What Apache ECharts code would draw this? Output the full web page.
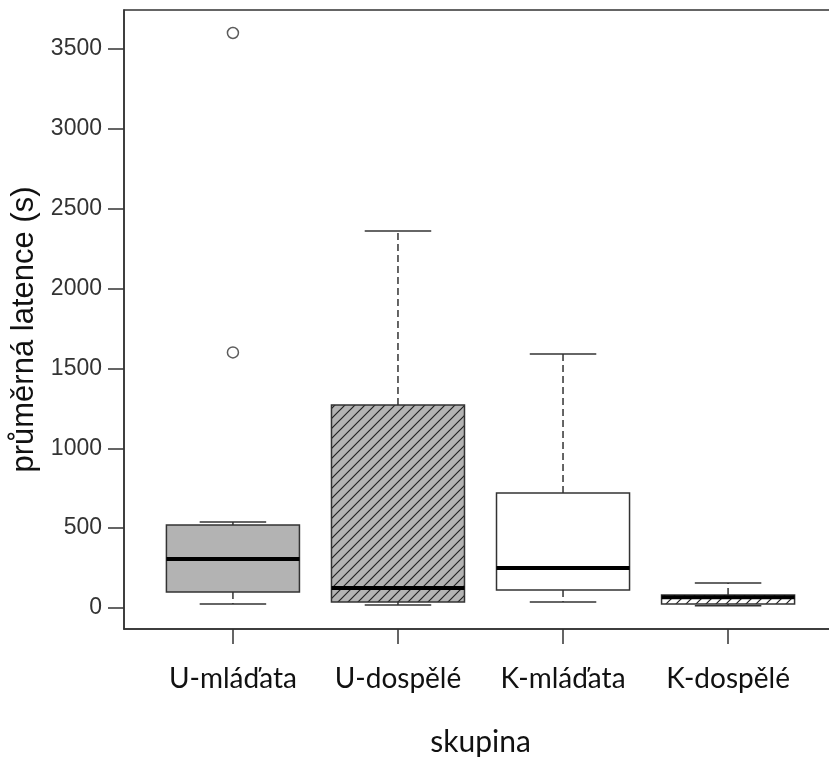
<!DOCTYPE html>
<html><head><meta charset="utf-8">
<script src="https://cdn.jsdelivr.net/npm/echarts@6/dist/echarts.min.js"></script>
<style>html,body{margin:0;padding:0;background:#fff}#c{width:829px;height:760px}</style>
</head><body><div id="c"></div>
<script>
// ---- data ----
const categories = ['U-mláďata', 'U-dospělé', 'K-mláďata', 'K-dospělé'];
const whiskerLow  = [25, 19, 38, 14];
const q1          = [100, 38, 113, 25];
const median      = [307, 125, 250, 68];
const q3          = [520, 1271, 720, 82];
const whiskerHigh = [538, 2360, 1590, 157];
const outlierCategory = [1, 1];
const outlierValue    = [1600, 3600];
const yTicks = [0, 500, 1000, 1500, 2000, 2500, 3000, 3500];
const xTicks = [1, 2, 3, 4];

// ---- styles ----
function hatch(bg) {
  const s = 10, c = document.createElement('canvas');
  c.width = s; c.height = s;
  const g = c.getContext('2d');
  g.fillStyle = bg; g.fillRect(0, 0, s, s);
  g.strokeStyle = '#222'; g.lineWidth = 1.2;
  g.beginPath();
  g.moveTo(-1, s + 1); g.lineTo(s + 1, -1);
  g.moveTo(-1, 1); g.lineTo(1, -1);
  g.moveTo(s - 1, s + 1); g.lineTo(s + 1, s - 1);
  g.stroke();
  return { image: c, repeat: 'repeat' };
}
const boxFills = ['#b3b3b3', hatch('#b3b3b3'), '#ffffff', hatch('#ffffff')];
const lineColor = '#333';

const boxData = categories.map((c, i) => [i + 1, whiskerLow[i], q1[i], median[i], q3[i], whiskerHigh[i]]);
const outData = outlierCategory.map((c, i) => [c, outlierValue[i]]);

const chart = echarts.init(document.getElementById('c'));
chart.setOption({
  animation: false,
  grid: { left: 124, top: 10, right: -8, bottom: 131, outerBoundsMode: 'none', containLabel: false,
    show: true, borderColor: lineColor, borderWidth: 1.5, backgroundColor: 'transparent' },
  xAxis: {
    type: 'value', min: 0.34, max: 4.66,
    name: 'skupina', nameLocation: 'middle', nameGap: 98,
    nameTextStyle: { fontFamily: 'Lato', fontSize: 30, color: '#111' },
    splitLine: { show: false },
    axisLine: { show: true, onZero: false, lineStyle: { color: lineColor, width: 1.5 } },
    axisTick: { show: true, customValues: xTicks, length: 15, lineStyle: { color: lineColor, width: 1.5 } },
    axisLabel: { customValues: xTicks, margin: 36, fontFamily: 'Lato', fontSize: 28, color: '#111',
      formatter: v => categories[Math.round(v) - 1] || '' }
  },
  yAxis: {
    type: 'value', min: -131.5, max: 3744,
    name: 'průměrná latence (s)', nameLocation: 'middle', nameGap: 79, nameRotate: 90,
    nameTextStyle: { fontFamily: 'Liberation Sans', fontSize: 31, color: '#111', padding: [0, 20, 0, 0] },
    splitLine: { show: false },
    axisLine: { show: true, onZero: false, lineStyle: { color: lineColor, width: 1.5 } },
    axisTick: { show: true, customValues: yTicks, length: 16, lineStyle: { color: lineColor, width: 1.5 } },
    axisLabel: { customValues: yTicks, margin: 22, fontFamily: 'Liberation Sans', fontSize: 23, color: '#333',
      formatter: v => String(v) }
  },
  series: [
    {
      type: 'custom',
      data: boxData,
      encode: { x: 0, y: [1, 2, 3, 4, 5] },
      renderItem: function (params, api) {
        const x = api.value(0);
        const lo = api.coord([x, api.value(1)]);
        const b1 = api.coord([x, api.value(2)]);
        const md = api.coord([x, api.value(3)]);
        const b3 = api.coord([x, api.value(4)]);
        const hi = api.coord([x, api.value(5)]);
        const bw = api.size([0.806, 0])[0];
        const cw = bw / 2;
        const cx = lo[0];
        const i = params.dataIndex;
        const dashed = { stroke: lineColor, lineWidth: 1.5, lineDash: [7, 4] };
        const solid = { stroke: lineColor, lineWidth: 1.5 };
        return {
          type: 'group',
          children: [
            { type: 'line', shape: { x1: cx, y1: b3[1], x2: cx, y2: hi[1] }, style: dashed },
            { type: 'line', shape: { x1: cx, y1: b1[1], x2: cx, y2: lo[1] }, style: dashed },
            { type: 'line', shape: { x1: cx - cw / 2, y1: hi[1], x2: cx + cw / 2, y2: hi[1] }, style: solid },
            { type: 'line', shape: { x1: cx - cw / 2, y1: lo[1], x2: cx + cw / 2, y2: lo[1] }, style: solid },
            { type: 'rect', shape: { x: cx - bw / 2, y: b3[1], width: bw, height: b1[1] - b3[1] },
              style: { fill: boxFills[i], stroke: lineColor, lineWidth: 1.5 } },
            { type: 'line', shape: { x1: cx - bw / 2, y1: md[1], x2: cx + bw / 2, y2: md[1] },
              style: { stroke: '#000', lineWidth: 4 } }
          ]
        };
      }
    },
    {
      type: 'scatter',
      data: outData,
      symbol: 'circle', symbolSize: 11,
      itemStyle: { color: '#fff', borderColor: lineColor, borderWidth: 1.5 }
    }
  ]
});
</script>
</body></html>
